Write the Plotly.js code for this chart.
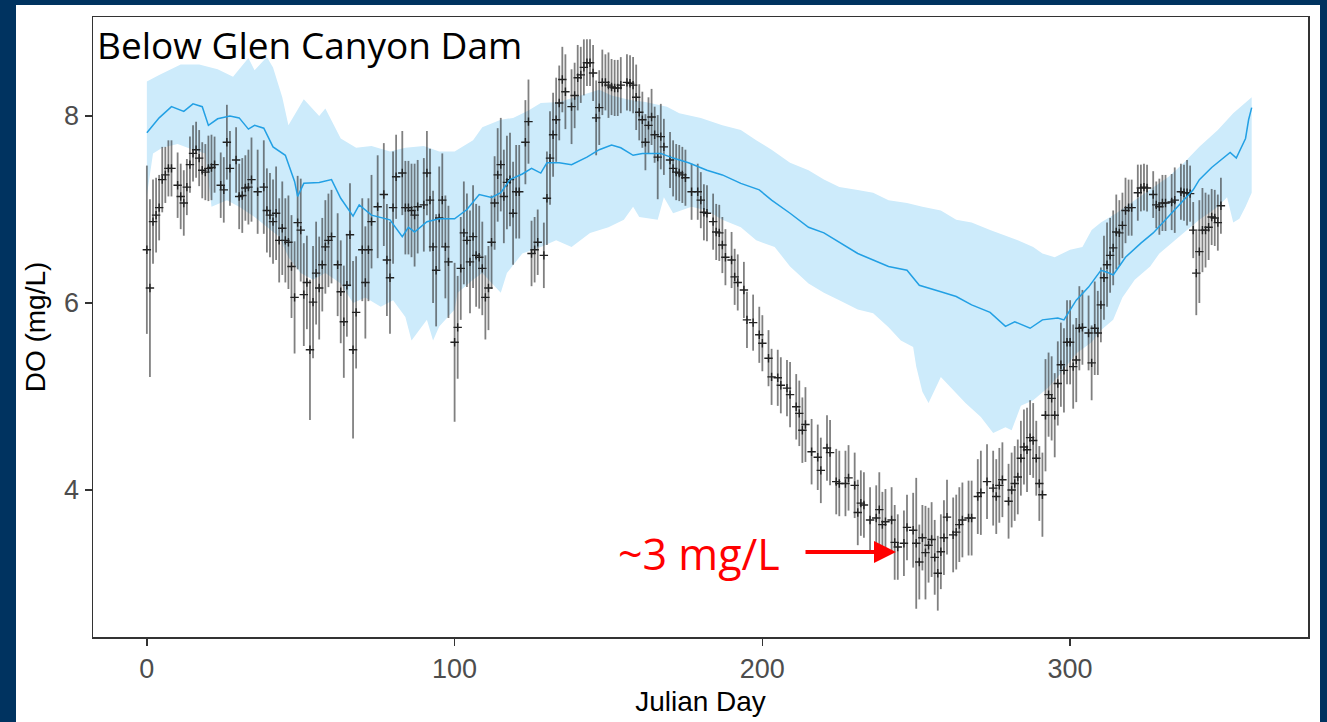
<!DOCTYPE html>
<html>
<head>
<meta charset="utf-8">
<script src="https://cdn.plot.ly/plotly-3.0.1.min.js"></script>
<style>html,body{margin:0;padding:0;background:#003360;}#chart{width:1327px;height:722px;}</style>
</head>
<body>
<div id="chart"></div>
<script>
// Observed daily DO (mean and spread)
const obsDay = [0,1,2,3,4,5,6,7,8,10,11,12,13,14,15,16,17,18,19,20,21,22,24,25,26,27,29,30,31,32,33,34,36,38,39,40,41,42,43,44,45,46,47,48,49,50,51,52,53,54,55,56,57,58,59,60,62,63,64,65,66,67,68,70,71,72,73,75,77,78,79,80,81,83,84,85,86,87,88,90,91,92,93,94,95,96,97,98,100,101,102,103,104,105,106,107,108,109,110,111,112,113,114,115,116,117,118,119,120,121,123,124,125,126,127,129,130,131,132,133,134,135,136,138,139,140,141,142,143,144,145,146,147,148,149,150,151,152,153,154,156,157,158,159,160,161,162,163,164,165,166,167,168,170,171,172,173,174,175,177,179,180,181,182,184,185,186,187,188,190,191,192,194,195,197,199,200,202,203,205,206,208,209,211,212,213,214,216,218,219,221,222,224,225,227,228,230,231,232,233,235,237,238,239,240,242,243,244,246,247,249,250,251,252,253,254,255,256,257,258,259,260,262,263,264,265,267,268,270,271,273,275,276,277,278,280,281,282,283,284,285,286,287,288,289,290,291,292,293,294,295,296,297,298,299,300,301,302,303,304,306,307,308,309,310,311,312,313,314,315,316,317,318,319,320,322,323,324,325,327,328,329,330,331,333,334,336,337,338,339,340,341,342,343,344,345,346,347,348,349];
const obsMean = [6.57,6.16,6.87,6.94,7.02,7.32,7.37,7.44,7.44,7.26,7.14,7.07,7.24,7.48,7.60,7.64,7.55,7.42,7.40,7.44,7.45,7.48,7.26,7.21,7.72,7.44,7.53,7.14,7.15,7.23,7.24,7.32,7.19,7.24,6.99,6.94,6.87,6.96,6.67,6.80,6.67,6.65,6.39,6.06,6.86,6.78,6.09,6.22,5.50,6.01,6.32,6.16,6.41,6.60,6.67,6.71,6.41,6.12,5.80,6.19,6.73,5.50,5.90,6.57,6.22,6.57,6.87,7.03,7.16,6.46,6.27,7.02,7.35,7.39,7.02,7.02,6.99,6.94,7.03,7.05,7.39,7.10,6.60,6.35,6.91,7.10,6.60,6.44,5.58,5.74,6.37,6.75,6.67,6.44,6.71,6.51,6.49,6.37,6.06,6.16,6.65,7.07,7.37,7.48,7.14,7.29,7.32,6.96,7.19,7.19,7.72,7.94,6.53,6.57,6.65,6.51,7.12,7.55,7.80,7.96,8.14,8.39,8.26,8.10,8.22,8.41,8.44,8.52,8.57,8.57,8.46,7.98,8.09,8.36,8.36,8.33,8.31,8.30,8.30,8.33,8.36,8.35,8.33,8.20,8.04,7.96,7.72,7.90,7.99,7.80,7.56,7.78,7.67,7.53,7.44,7.40,7.39,7.37,7.34,7.19,7.19,7.10,6.97,6.96,6.87,6.76,6.75,6.62,6.49,6.46,6.28,6.22,6.14,5.82,5.79,5.66,5.57,5.41,5.21,5.20,5.12,5.09,5.02,4.89,4.82,4.64,4.70,4.41,4.35,4.21,4.45,4.40,4.09,4.07,4.07,4.13,4.05,3.76,3.86,3.84,3.68,3.70,3.79,3.63,3.66,3.68,3.44,3.39,3.43,3.60,3.57,3.43,3.23,3.49,3.33,3.41,3.47,3.28,3.11,3.34,3.49,3.71,3.52,3.55,3.63,3.68,3.70,3.70,3.93,3.97,4.09,4.02,3.93,4.05,4.11,3.88,4.00,4.07,4.14,4.34,4.46,4.43,4.56,4.53,4.34,4.07,3.95,4.80,5.02,4.98,4.80,5.14,5.34,5.28,5.58,5.58,5.32,5.39,5.73,5.74,5.68,5.36,5.73,5.68,5.98,6.27,6.41,6.51,6.59,6.76,6.75,6.83,6.99,7.02,7.02,7.18,7.23,7.24,7.23,7.16,7.05,7.03,7.07,7.07,7.08,7.10,7.19,7.18,7.18,7.17,6.78,6.32,6.55,6.78,6.78,6.81,6.92,6.91,6.86,7.04];
const obsSd = [0.9,0.95,0.45,0.4,0.35,0.35,0.3,0.3,0.3,0.35,0.35,0.35,0.3,0.3,0.3,0.3,0.3,0.3,0.3,0.35,0.35,0.3,0.35,0.35,0.4,0.4,0.35,0.35,0.4,0.35,0.4,0.45,0.45,0.5,0.45,0.45,0.45,0.5,0.45,0.5,0.45,0.5,0.55,0.6,0.5,0.55,0.55,0.5,0.75,0.6,0.55,0.55,0.5,0.5,0.5,0.5,0.55,0.55,0.6,0.55,0.55,0.95,0.6,0.55,0.6,0.55,0.5,0.55,0.55,0.6,0.6,0.6,0.45,0.45,0.5,0.5,0.5,0.55,0.5,0.5,0.45,0.55,0.6,0.6,0.55,0.5,0.55,0.6,0.85,0.55,0.55,0.55,0.5,0.55,0.55,0.55,0.55,0.5,0.45,0.45,0.5,0.5,0.5,0.5,0.5,0.5,0.5,0.55,0.5,0.5,0.45,0.45,0.35,0.35,0.35,0.35,0.5,0.5,0.45,0.45,0.4,0.35,0.4,0.4,0.35,0.35,0.3,0.3,0.25,0.25,0.3,0.4,0.4,0.35,0.3,0.35,0.3,0.3,0.3,0.3,0.3,0.3,0.3,0.35,0.3,0.3,0.3,0.3,0.3,0.3,0.45,0.35,0.3,0.3,0.3,0.3,0.3,0.3,0.3,0.3,0.3,0.3,0.3,0.3,0.3,0.3,0.3,0.3,0.3,0.3,0.3,0.3,0.3,0.3,0.3,0.3,0.3,0.3,0.3,0.3,0.3,0.3,0.35,0.35,0.35,0.35,0.4,0.35,0.35,0.35,0.35,0.35,0.35,0.35,0.35,0.35,0.35,0.35,0.35,0.35,0.35,0.35,0.4,0.35,0.35,0.35,0.4,0.35,0.35,0.35,0.4,0.7,0.4,0.35,0.5,0.4,0.4,0.4,0.4,0.4,0.4,0.4,0.4,0.4,0.4,0.4,0.4,0.4,0.4,0.45,0.4,0.4,0.4,0.4,0.4,0.4,0.4,0.4,0.4,0.4,0.4,0.45,0.4,0.4,0.4,0.4,0.45,0.6,0.45,0.45,0.45,0.45,0.45,0.45,0.45,0.45,0.45,0.45,0.45,0.4,0.4,0.4,0.5,0.45,0.4,0.45,0.45,0.4,0.4,0.4,0.35,0.35,0.35,0.3,0.3,0.3,0.25,0.25,0.25,0.25,0.25,0.3,0.3,0.3,0.3,0.35,0.3,0.3,0.35,0.3,0.3,0.45,0.55,0.45,0.4,0.35,0.3,0.3,0.3,0.3,0.3];

// Modelled mean and its band
const modelDay = [0,4,8,12,15,18,20,23,27,30,33,35,38,41,45,48,49,51,56,60,63,67,69,73,79,83,85,87,91,95,100,104,108,112,115,118,122,125,128,130,134,138,143,147,151,154,158,161,167,171,176,182,187,193,199,203,209,215,220,225,231,236,241,247,251,258,263,268,274,279,282,287,291,296,298,302,306,310,312,314,318,323,327,331,336,340,342,346,352,354,357,358,359];
const modelMean = [7.82,7.98,8.10,8.05,8.13,8.10,7.90,7.97,8.00,7.98,7.86,7.90,7.87,7.67,7.58,7.30,7.14,7.28,7.29,7.32,7.12,6.93,7.05,6.94,6.89,6.71,6.81,6.76,6.87,6.90,6.90,7.00,7.16,7.13,7.18,7.32,7.38,7.44,7.39,7.50,7.50,7.48,7.56,7.64,7.69,7.66,7.58,7.60,7.60,7.55,7.50,7.42,7.37,7.28,7.21,7.10,6.96,6.81,6.75,6.65,6.53,6.46,6.39,6.35,6.19,6.12,6.07,5.98,5.90,5.75,5.80,5.73,5.82,5.84,5.82,6.03,6.17,6.35,6.33,6.30,6.49,6.64,6.75,6.89,7.07,7.21,7.32,7.45,7.61,7.55,7.76,7.96,8.09];
const upperDay = [0,4,11,17,23,28,33,35,39,41,44,46,51,56,58,63,68,73,79,84,90,95,100,106,109,115,119,124,128,134,138,144,147,151,157,162,169,173,180,187,193,198,203,209,215,220,225,231,236,241,247,252,258,263,268,274,280,283,288,291,295,300,304,307,310,315,321,326,332,337,342,348,353,359];
const upperVal = [8.37,8.44,8.55,8.55,8.50,8.42,8.62,8.49,8.63,8.52,8.20,7.90,8.18,8.00,8.08,7.76,7.66,7.68,7.62,7.66,7.68,7.62,7.62,7.74,7.88,7.96,7.98,8.06,8.14,8.15,8.19,8.25,8.28,8.22,8.17,8.15,8.10,8.03,7.98,7.90,7.85,7.74,7.64,7.50,7.42,7.32,7.24,7.21,7.18,7.10,7.07,7.03,6.99,6.89,6.86,6.78,6.71,6.67,6.60,6.53,6.49,6.57,6.60,6.78,6.86,6.96,7.10,7.21,7.35,7.50,7.67,7.85,8.03,8.20];
const lowerDay = [0,2,5,10,15,19,21,26,30,35,39,43,46,50,54,58,63,67,71,76,80,84,86,91,93,95,100,101,106,109,115,117,122,128,133,138,144,150,155,158,160,166,168,171,177,182,187,193,198,204,209,215,220,225,231,236,241,245,249,250,252,254,258,262,266,271,275,279,281,284,288,293,297,302,307,310,314,317,321,326,329,334,338,342,348,351,353,355,357,359];
const lowerVal = [7.15,7.60,7.66,7.70,7.64,7.60,7.03,7.10,7.03,6.92,6.81,6.71,6.49,6.32,6.25,6.32,6.21,6.00,6.06,5.96,6.03,5.85,5.60,5.82,5.60,5.75,5.93,6.11,6.25,6.32,6.11,6.32,6.53,6.60,6.67,6.60,6.75,6.81,6.89,7.03,6.92,6.89,7.13,6.96,7.03,6.99,6.89,6.81,6.67,6.60,6.39,6.21,6.11,6.03,5.93,5.89,5.74,5.60,5.53,5.32,5.05,4.93,5.21,5.07,4.93,4.78,4.61,4.67,4.64,4.90,4.96,5.10,5.25,5.46,5.58,5.71,5.82,6.06,6.25,6.39,6.53,6.67,6.78,6.89,7.03,7.13,6.86,6.90,7.03,7.18];

// Axis ticks
const xTicks = [0,100,200,300];
const xTickText = ['0','100','200','300'];
const yTicks = [4,6,8];
const yTickText = ['4','6','8'];

const bandX = upperDay.concat(lowerDay.slice().reverse());
const bandY = upperVal.concat(lowerVal.slice().reverse());

const traces = [
  {type:'scatter', mode:'lines', x:bandX, y:bandY, fill:'toself',
   fillcolor:'#cdebfb', line:{width:0, color:'rgba(0,0,0,0)'}, hoverinfo:'skip', showlegend:false},
  {type:'scatter', mode:'markers', x:obsDay, y:obsMean,
   error_y:{type:'data', array:obsSd, visible:true, color:'rgba(50,50,50,0.62)', thickness:1.8, width:0},
   marker:{symbol:'cross-thin', size:6, color:'#222', line:{color:'#222', width:1.4}}, showlegend:false},
  {type:'scatter', mode:'lines', x:modelDay, y:modelMean,
   line:{color:'#22a0e4', width:1.5}, showlegend:false}
];

const W = 1327, H = 722, L = 93, R = 19, T = 17, B = 85;
const pw = W - L - R, ph = H - T - B;
const px = v => (v - L) / pw;
const py = v => (H - B - v) / ph;

const layout = {
  width: W, height: H,
  paper_bgcolor:'#003360', plot_bgcolor:'#ffffff',
  margin:{l:L, r:R, t:T, b:B},
  showlegend:false,
  shapes:[
    {type:'rect', xref:'paper', yref:'paper', x0:px(16), x1:px(1320), y0:py(722), y1:py(5),
     fillcolor:'#ffffff', line:{width:0}, layer:'below'}
  ],
  xaxis:{range:[-17.5, 377.3], tickvals:xTicks, ticktext:xTickText, showgrid:false, zeroline:false,
    showline:true, mirror:true, linecolor:'#333', linewidth:1.5,
    ticks:'outside', ticklen:7, tickwidth:1.5, tickcolor:'#333',
    tickfont:{family:'Liberation Sans, Arial, sans-serif', size:27, color:'#4d4d4d'},
    title:{text:'Julian Day', font:{family:'Liberation Sans, Arial, sans-serif', size:28, color:'#000'}, standoff:8}},
  yaxis:{range:[2.428, 9.059], tickvals:yTicks, ticktext:yTickText, showgrid:false, zeroline:false,
    showline:true, mirror:true, linecolor:'#333', linewidth:1.5,
    ticks:'outside', ticklen:7, tickwidth:1.5, tickcolor:'#333',
    tickfont:{family:'Liberation Sans, Arial, sans-serif', size:27, color:'#4d4d4d'},
    title:{text:'DO (mg/L)', font:{family:'Liberation Sans, Arial, sans-serif', size:28, color:'#000'}, standoff:10}},
  annotations:[
    {xref:'paper', yref:'paper', x:px(95), y:py(17), xanchor:'left', yanchor:'top', showarrow:false,
     text:'Below Glen Canyon Dam', font:{family:'Open Sans, sans-serif', size:37, color:'#000'}},
    {xref:'paper', yref:'paper', x:px(616), y:py(553), xanchor:'left', yanchor:'middle', showarrow:false,
     text:'~3 mg/L', font:{family:'Open Sans, sans-serif', size:43, color:'#ff0000'}},
    {xref:'paper', yref:'paper', x:px(896), y:py(552), ax:px(804), ay:py(552), axref:'paper', ayref:'paper',
     showarrow:true, text:'', arrowhead:2, arrowsize:1.1, arrowwidth:4, arrowcolor:'#ff0000'}
  ]
};

Plotly.newPlot('chart', traces, layout, {displayModeBar:false, staticPlot:true});
</script>
</body>
</html>
